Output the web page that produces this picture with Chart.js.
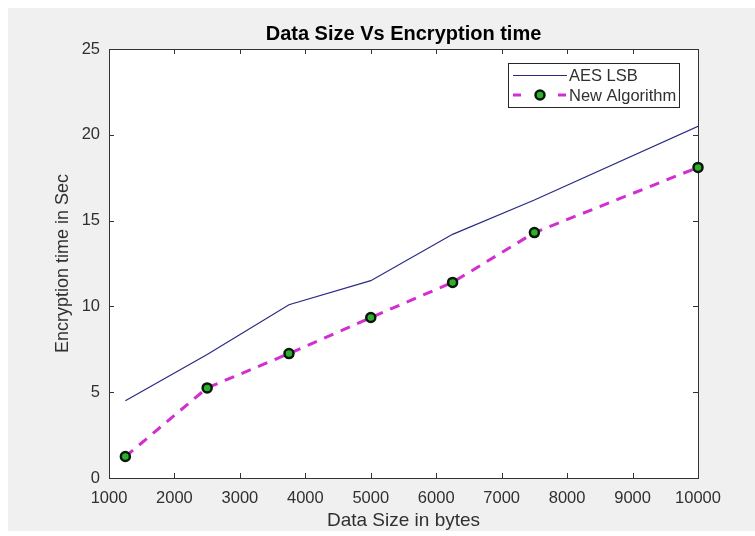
<!DOCTYPE html>
<html>
<head>
<meta charset="utf-8">
<script src="https://cdn.jsdelivr.net/npm/chart.js@4"></script>
<style>
  html, body { margin: 0; padding: 0; background: #ffffff; }
  #wrap { position: relative; width: 755px; height: 536px; }
</style>
</head>
<body>
<div id="wrap"><canvas id="chart" width="755" height="536"></canvas></div>
<script>
// Data size (bytes) against encryption time (s)
const dataSizes = [1250, 2500, 3750, 5000, 6250, 7500, 10000];
const aesLsb = [4.5, 7.2, 10.1, 11.5, 14.2, 16.2, 20.5];
const newAlgorithm = [1.25, 5.25, 7.25, 9.35, 11.4, 14.3, 18.1];
const xTickValues = [1000, 2000, 3000, 4000, 5000, 6000, 7000, 8000, 9000, 10000];
const yTickValues = [0, 5, 10, 15, 20, 25];

const FONT = "'Liberation Sans', Arial, Helvetica, sans-serif";
const AXIS_COLOR = '#333333';
const TEXT_COLOR = '#303030';

const toPoints = (xs, ys) => xs.map((x, i) => ({ x: x, y: ys[i] }));

// Grey figure panel, white axes box, inward ticks on all four sides
const framePlugin = {
  id: 'frame',
  beforeDraw(chart) {
    const { ctx, chartArea: a } = chart;
    ctx.save();
    ctx.fillStyle = '#ffffff';
    ctx.fillRect(0, 0, chart.width, chart.height);
    ctx.fillStyle = '#f0f0f0';
    ctx.fillRect(8, 8, chart.width - 8, chart.height - 13);
    ctx.fillStyle = '#ffffff';
    ctx.fillRect(a.left, a.top, a.right - a.left, a.bottom - a.top);
    ctx.restore();
  },
  beforeDatasetsDraw(chart) {
    const { ctx, chartArea: a, scales } = chart;
    const tick = 5;
    ctx.save();
    ctx.strokeStyle = AXIS_COLOR;
    ctx.lineWidth = 1;
    ctx.beginPath();
    scales.x.ticks.forEach(t => {
      const px = Math.round(scales.x.getPixelForValue(t.value)) + 0.5;
      ctx.moveTo(px, a.bottom); ctx.lineTo(px, a.bottom - tick);
      ctx.moveTo(px, a.top); ctx.lineTo(px, a.top + tick);
    });
    scales.y.ticks.forEach(t => {
      const py = Math.round(scales.y.getPixelForValue(t.value)) + 0.5;
      ctx.moveTo(a.left, py); ctx.lineTo(a.left + tick, py);
      ctx.moveTo(a.right, py); ctx.lineTo(a.right - tick, py);
    });
    ctx.stroke();
    ctx.strokeRect(Math.round(a.left) + 0.5, Math.round(a.top) + 0.5,
                   Math.round(a.right - a.left), Math.round(a.bottom - a.top));
    ctx.restore();
  }
};

// Boxed legend in the upper right corner of the axes
const legendBoxPlugin = {
  id: 'legendBox',
  afterDraw(chart) {
    const { ctx } = chart;
    const ds = chart.data.datasets;
    const box = { x: 508.5, y: 63.5, w: 171, h: 44 };
    const rows = [75, 95];
    const x0 = 513, x1 = 567, tx = 569;
    ctx.save();
    ctx.fillStyle = '#ffffff';
    ctx.fillRect(box.x, box.y, box.w, box.h);
    ctx.strokeStyle = '#262626';
    ctx.lineWidth = 1;
    ctx.strokeRect(box.x, box.y, box.w, box.h);

    // first entry: solid line
    ctx.strokeStyle = ds[0].borderColor;
    ctx.lineWidth = ds[0].borderWidth;
    ctx.beginPath();
    ctx.moveTo(x0, rows[0] + 0.5); ctx.lineTo(x1, rows[0] + 0.5);
    ctx.stroke();

    // second entry: dashes either side of a marker
    ctx.strokeStyle = ds[1].borderColor;
    ctx.lineWidth = ds[1].borderWidth;
    ctx.setLineDash([8, 37]);
    ctx.beginPath();
    ctx.moveTo(x0, rows[1]); ctx.lineTo(x1, rows[1]);
    ctx.stroke();
    ctx.setLineDash([]);
    ctx.beginPath();
    ctx.arc((x0 + x1) / 2, rows[1], ds[1].pointRadius, 0, Math.PI * 2);
    ctx.fillStyle = ds[1].pointBackgroundColor;
    ctx.fill();
    ctx.lineWidth = ds[1].pointBorderWidth;
    ctx.strokeStyle = ds[1].pointBorderColor;
    ctx.stroke();

    ctx.fillStyle = TEXT_COLOR;
    ctx.font = '16.5px ' + FONT;
    ctx.textBaseline = 'middle';
    ctx.textAlign = 'left';
    ctx.fillText(ds[0].label, tx, rows[0] + 1);
    ctx.fillText(ds[1].label, tx, rows[1] + 1);
    ctx.restore();
  }
};

new Chart(document.getElementById('chart'), {
  type: 'line',
  data: {
    datasets: [
      {
        label: 'AES LSB',
        data: toPoints(dataSizes, aesLsb),
        borderColor: '#2a2a86',
        borderWidth: 1.2,
        pointRadius: 0,
        fill: false,
        tension: 0
      },
      {
        label: 'New Algorithm',
        data: toPoints(dataSizes, newAlgorithm),
        borderColor: '#d22ed2',
        borderWidth: 3,
        borderDash: [10, 8],
        pointRadius: 4.5,
        pointBorderWidth: 2.5,
        pointBackgroundColor: '#2fae2f',
        pointBorderColor: '#061806',
        pointHoverRadius: 4.5,
        fill: false,
        tension: 0,
        clip: false
      }
    ]
  },
  options: {
    responsive: false,
    animation: false,
    events: [],
    layout: { padding: { top: 0, right: 57, bottom: 0, left: 0 } },
    plugins: {
      legend: { display: false },
      tooltip: { enabled: false },
      title: {
        display: true,
        fullSize: false,
        text: 'Data Size Vs Encryption time',
        color: '#000000',
        font: { family: FONT, size: 20, weight: 'bold', lineHeight: 1.2 },
        padding: { top: 22, bottom: 3 }
      }
    },
    scales: {
      x: {
        type: 'linear',
        min: 1000,
        max: 10000,
        afterBuildTicks: s => { s.ticks = xTickValues.map(v => ({ value: v })); },
        afterFit: s => { s.height = 58; },
        grid: { display: false, drawTicks: false },
        border: { display: false },
        ticks: {
          padding: 11,
          color: TEXT_COLOR,
          font: { family: FONT, size: 16.5 },
          maxRotation: 0,
          autoSkip: false,
          callback: v => String(v)
        },
        title: {
          display: true,
          text: 'Data Size in bytes',
          color: TEXT_COLOR,
          font: { family: FONT, size: 19, lineHeight: 1.2 },
          padding: { top: 0, bottom: 3.6 }
        }
      },
      y: {
        type: 'linear',
        min: 0,
        max: 25,
        afterBuildTicks: s => { s.ticks = yTickValues.map(v => ({ value: v })); },
        afterFit: s => { s.width = 109; },
        grid: { display: false, drawTicks: false },
        border: { display: false },
        ticks: {
          padding: 9,
          color: TEXT_COLOR,
          font: { family: FONT, size: 16.5 },
          autoSkip: false,
          callback: v => String(v)
        },
        title: {
          display: true,
          text: 'Encryption time in Sec',
          color: TEXT_COLOR,
          font: { family: FONT, size: 18, lineHeight: 1.2 },
          padding: { top: 52, bottom: 0 }
        }
      }
    }
  },
  plugins: [framePlugin, legendBoxPlugin]
});
</script>
</body>
</html>
